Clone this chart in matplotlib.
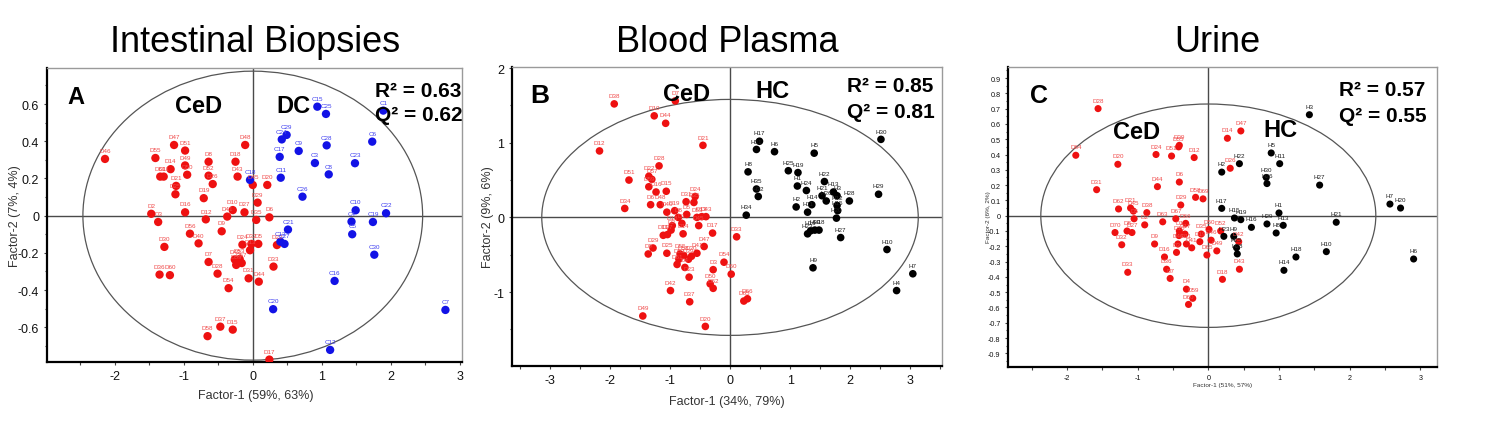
import matplotlib
matplotlib.use("Agg")
import matplotlib.pyplot as plt
from matplotlib.patches import Ellipse
from matplotlib.ticker import MultipleLocator, FuncFormatter

plt.rcParams['font.family'] = ['Liberation Sans', 'DejaVu Sans']
plt.rcParams['axes.unicode_minus'] = False

# ---------------- Panel A: Intestinal Biopsies ----------------
a_ced_labels = ["D46", "D47", "D51", "D55", "D14", "D49", "D50", "D61", "D11", "D21",
                "D25", "D8", "D52", "D26", "D19", "D48", "D18", "D43", "D2", "D3",
                "D16", "D12", "D10", "D41", "D27", "D9", "D56", "D40", "D30", "D24",
                "D13", "D32", "D5", "D22", "D7", "D42", "D57", "D59", "D53", "D33",
                "D28", "D36", "D60", "D31", "D44", "D54", "D37", "D15", "D58", "D17",
                "D20", "D45", "D29", "D6", "D35"]
a_ced_x = [-2.14, -1.14, -0.98, -1.41, -1.19, -0.98, -0.95, -1.34, -1.29, -1.11,
           -1.12, -0.64, -0.64, -0.58, -0.71, -0.11, -0.25, -0.22, -1.47, -1.37,
           -0.98, -0.68, -0.29, -0.37, -0.12, -0.45, -0.91, -0.785, -1.28, -0.15,
           -0.04, -0.02, 0.08, 0.35, -0.64, -0.26, -0.16, -0.24, -0.19, 0.30,
           -0.51, -1.35, -1.20, -0.06, 0.087, -0.35, -0.47, -0.29, -0.655, 0.24,
           0.21, 0.0, 0.07, 0.24, 0.05]
a_ced_y = [0.305, 0.38, 0.35, 0.31, 0.25, 0.27, 0.22, 0.21, 0.21, 0.16,
           0.115, 0.29, 0.215, 0.17, 0.094, 0.38, 0.29, 0.21, 0.01, -0.034,
           0.018, -0.02, 0.03, -0.005, 0.018, -0.084, -0.097, -0.149, -0.168, -0.156,
           -0.186, -0.152, -0.152, -0.158, -0.249, -0.236, -0.255, -0.265, -0.233, -0.274,
           -0.312, -0.317, -0.32, -0.337, -0.355, -0.39, -0.597, -0.613, -0.648, -0.774,
           0.165, 0.165, 0.07, -0.009, -0.023]

a_dc_labels = ["C15", "C25", "C1", "C29", "C24", "C9", "C28", "C6", "C17", "C3",
               "C23", "C8", "C11", "C18", "C26", "C10", "C22", "C19", "C4", "C5",
               "C21", "C13", "C27", "C30", "C16", "C20", "C12", "C7"]
a_dc_x = [0.935, 1.06, 1.89, 0.49, 0.42, 0.665, 1.07, 1.73, 0.39, 0.90,
          1.48, 1.10, 0.405, -0.04, 0.72, 1.49, 1.93, 1.74, 1.43, 1.44,
          0.51, 0.40, 0.46, 1.76, 1.185, 0.295, 1.12, 2.79]
a_dc_y = [0.586, 0.547, 0.565, 0.434, 0.41, 0.348, 0.378, 0.398, 0.316, 0.283,
          0.282, 0.222, 0.204, 0.192, 0.102, 0.029, 0.013, -0.034, -0.032, -0.10,
          -0.075, -0.14, -0.152, -0.21, -0.351, -0.503, -0.722, -0.507]

# ---------------- Panel B: Blood Plasma ----------------
b_ced_labels = ["D38", "D7", "D10", "D44", "D12", "D21", "D28", "D51", "D22", "D57",
                "D59", "D16", "D15", "D34", "D6", "D48", "D40", "D19", "D31", "D24",
                "D35", "D5", "D8", "D53", "D43", "D13", "D45", "D1", "D18", "D2",
                "D17", "D14", "D27", "D11", "D33", "D29", "D9", "D25", "D55", "D58",
                "D41", "D47", "D30", "D39", "D61", "D52", "D4", "D54", "D3", "D60",
                "D23", "D50", "D62", "D42", "D37", "D65", "D66", "D49", "D20"]
b_ced_x = [-1.925, -0.91, -1.26, -1.07, -2.17, -0.45, -1.18, -1.68, -1.35, -1.30,
           -1.35, -1.23, -1.06, -1.75, -1.32, -1.16, -1.05, -0.92, -0.73, -0.58,
           -0.60, -0.72, -0.86, -0.55, -0.40, -0.47, -0.52, -0.80, -0.96, -0.98,
           -0.29, -0.78, -1.04, -1.11, 0.11, -1.28, -1.36, -1.05, -0.83, -0.77,
           -0.55, -0.43, -0.64, -0.69, -0.88, -0.85, -0.75, -0.10, -0.28, 0.02,
           -0.68, -0.33, -0.28, -0.99, -0.67, 0.23, 0.29, -1.45, -0.41]
b_ced_y = [1.52, 1.56, 1.36, 1.26, 0.89, 0.965, 0.69, 0.50, 0.55, 0.51,
           0.41, 0.34, 0.35, 0.12, 0.17, 0.17, 0.07, 0.09, 0.21, 0.28,
           0.20, 0.04, 0.0, 0.0, 0.01, 0.01, -0.11, -0.08, -0.11, -0.17,
           -0.21, -0.22, -0.23, -0.24, -0.26, -0.41, -0.49, -0.48, -0.49, -0.51,
           -0.48, -0.39, -0.52, -0.56, -0.63, -0.56, -0.67, -0.60, -0.70, -0.76,
           -0.80, -0.89, -0.95, -0.98, -1.13, -1.12, -1.09, -1.32, -1.46]

b_hc_labels = ["H30", "H17", "H31", "H6", "H5", "H8", "H25", "H19", "H22", "H1",
               "H24", "H13", "H3", "H28", "H29", "H35", "H32", "H34", "H2", "H11",
               "H14", "H21", "H26", "H12", "H15", "H20", "H18", "H33", "H16", "H23",
               "H27", "H9", "H10", "H7", "H4"]
b_hc_x = [2.51, 0.49, 0.44, 0.74, 1.40, 0.30, 0.97, 1.13, 1.57, 1.12,
          1.27, 1.72, 1.78, 1.985, 2.47, 0.44, 0.47, 0.27, 1.10, 1.29,
          1.36, 1.53, 1.60, 1.78, 1.79, 1.77, 1.48, 1.41, 1.34, 1.29,
          1.84, 1.38, 2.61, 3.04, 2.77]
b_hc_y = [1.045, 1.02, 0.91, 0.88, 0.86, 0.61, 0.625, 0.60, 0.48, 0.42,
          0.36, 0.34, 0.29, 0.22, 0.31, 0.38, 0.28, 0.03, 0.14, 0.07,
          0.17, 0.29, 0.22, 0.16, 0.09, -0.01, -0.17, -0.17, -0.18, -0.22,
          -0.27, -0.675, -0.43, -0.755, -0.98]

# ---------------- Panel C: Urine ----------------
c_ced_labels = ["D28", "D64", "D20", "D31", "D24", "D51", "D39", "D55", "D12", "D14",
                "D47", "D26", "D44", "D6", "D29", "D58", "D69", "D62", "D21", "D45",
                "D5", "D38", "D2", "D63", "D67", "D66", "D70", "D8", "D27", "D32",
                "D9", "D1", "D17", "D10", "D40", "D11", "D41", "D35", "D19", "D50",
                "D46", "D52", "D16", "D36", "D7", "D3", "D65", "D49", "D33", "D4",
                "D59", "D60", "D18", "D43", "D42"]
c_ced_x = [-1.56, -1.875, -1.28, -1.58, -0.74, -0.52, -0.41, -0.42, -0.20, 0.27,
           0.46, 0.31, -0.72, -0.41, -0.39, -0.18, -0.075, -1.27, -1.10, -1.06,
           -1.05, -0.87, -0.90, -0.645, -0.46, -0.32, -1.32, -1.15, -1.08, -1.225,
           -0.76, -0.41, -0.33, -0.415, -0.43, -0.31, -0.235, -0.10, -0.12, 0.01,
           0.04, 0.175, -0.62, -0.59, -0.54, -0.45, -0.02, 0.12, -1.14, -0.31,
           -0.22, -0.28, 0.20, 0.44, 0.43]
c_ced_y = [0.70, 0.395, 0.336, 0.17, 0.40, 0.39, 0.46, 0.45, 0.38, 0.506,
           0.554, 0.31, 0.19, 0.22, 0.07, 0.12, 0.11, 0.044, 0.05, 0.03,
           -0.02, 0.02, -0.06, -0.04, -0.02, -0.05, -0.11, -0.10, -0.11, -0.19,
           -0.185, -0.10, -0.12, -0.13, -0.185, -0.185, -0.21, -0.12, -0.17, -0.09,
           -0.16, -0.10, -0.27, -0.35, -0.41, -0.24, -0.257, -0.23, -0.37, -0.48,
           -0.54, -0.58, -0.416, -0.35, -0.17]

c_hc_labels = ["H3", "H5", "H11", "H22", "H2", "H30", "H26", "H27", "H7", "H20",
               "H17", "H1", "H15", "H19", "H16", "H29", "H13", "H8", "H21", "H9",
               "H23", "H25", "H28", "H14", "H18", "H10", "H6"]
c_hc_x = [1.43, 0.89, 1.01, 0.44, 0.19, 0.82, 0.83, 1.575, 2.57, 2.72,
          0.19, 1.0, 0.37, 0.46, 0.61, 0.83, 1.06, 0.96, 1.81, 0.36,
          0.22, 0.40, 0.41, 1.07, 1.24, 1.67, 2.905]
c_hc_y = [0.66, 0.41, 0.34, 0.34, 0.285, 0.25, 0.21, 0.20, 0.076, 0.05,
          0.048, 0.018, -0.015, -0.026, -0.076, -0.054, -0.063, -0.113, -0.043, -0.135,
          -0.135, -0.21, -0.25, -0.357, -0.27, -0.235, -0.283]

titles = ["Intestinal Biopsies", "Blood Plasma", "Urine"]
panel_letters = ["A", "B", "C"]
xlabels = ["Factor-1 (59%, 63%)", "Factor-1 (34%, 79%)", "Factor-1 (51%, 57%)"]
ylabels = ["Factor-2 (7%, 4%)", "Factor-2 (9%, 6%)", "Factor-2 (6%, 2%)"]
r2_texts = ["R² = 0.63", "R² = 0.85", "R² = 0.57"]
q2_texts = ["Q² = 0.62", "Q² = 0.81", "Q² = 0.55"]
group_texts = [("CeD", "DC"), ("CeD", "HC"), ("CeD", "HC")]

# ---------------- Figure ----------------
W, H = 1490, 431
fig = plt.figure(figsize=(W / 100, H / 100), dpi=100)
fig.patch.set_facecolor('white')

def fx(x):
    return x / W

def fy(y):
    return 1 - y / H

def make_axes(l, r, t, b):
    return fig.add_axes([fx(l), fy(b), fx(r) - fx(l), fy(t) - fy(b)])

RED, RED_T = '#EE1111', '#F04A4A'
BLUE, BLUE_T = '#1212E6', '#3C3CF0'
BLK, BLK_T = '#000000', '#1E1E1E'

def fmt(v, p):
    if abs(v) < 1e-9:
        return "0"
    return f"{round(v, 2):g}"

def style_axes(ax, tick_fs, xmaj, xmin, ymaj, ymin):
    for side in ['top', 'right']:
        ax.spines[side].set_color('#9a9a9a')
        ax.spines[side].set_linewidth(1.0)
    for side in ['left', 'bottom']:
        ax.spines[side].set_color('#000000')
        ax.spines[side].set_linewidth(1.6)
    ax.xaxis.set_major_locator(MultipleLocator(xmaj))
    ax.xaxis.set_minor_locator(MultipleLocator(xmin))
    ax.yaxis.set_major_locator(MultipleLocator(ymaj))
    ax.yaxis.set_minor_locator(MultipleLocator(ymin))
    ax.xaxis.set_major_formatter(FuncFormatter(fmt))
    ax.yaxis.set_major_formatter(FuncFormatter(fmt))
    ax.tick_params(which='both', direction='out', length=2.5, width=0.8,
                   color='#444444', labelsize=tick_fs, labelcolor='#111111', pad=3)
    ax.tick_params(which='minor', length=1.8)
    ax.axhline(0, color='#4a4a4a', lw=1.0, zorder=1)
    ax.axvline(0, color='#4a4a4a', lw=1.0, zorder=1)

def draw_group(ax, labels, xs, ys, c, tc, s):
    ax.scatter(xs, ys, s=s, c=c, edgecolors='none', zorder=3)
    for lab, x, y in zip(labels, xs, ys):
        ax.annotate(lab, (x, y), xytext=(0, 4.2), textcoords='offset points',
                    ha='center', va='bottom', fontsize=4.5, color=tc, zorder=4)

# Panel A
axA = make_axes(47, 462, 69, 363)
axA.set_xlim(-2.98, 3.03)
axA.set_ylim(-0.787, 0.794)
style_axes(axA, 9, 1, 0.5, 0.2, 0.1)
axA.add_patch(Ellipse((0, 0), 2 * 2.46, 2 * 0.777, fill=False, ec='#555555', lw=0.9, zorder=2))
draw_group(axA, a_ced_labels, a_ced_x, a_ced_y, RED, RED_T, 36)
draw_group(axA, a_dc_labels, a_dc_x, a_dc_y, BLUE, BLUE_T, 36)

# Panel B
axB = make_axes(511.7, 942.3, 68.3, 367)
axB.set_xlim(-3.63, 3.53)
axB.set_ylim(-1.99, 2.01)
style_axes(axB, 9, 1, 0.5, 1, 0.5)
axB.add_patch(Ellipse((0, 0), 2 * 3.13, 2 * 1.58, fill=False, ec='#555555', lw=0.9, zorder=2))
draw_group(axB, b_ced_labels, b_ced_x, b_ced_y, RED, RED_T, 30)
draw_group(axB, b_hc_labels, b_hc_x, b_hc_y, BLK, BLK_T, 30)

# Panel C
axC = make_axes(1008.3, 1437.3, 68.3, 367.7)
axC.set_xlim(-2.83, 3.24)
axC.set_ylim(-0.987, 0.97)
style_axes(axC, 5.2, 1, 0.5, 0.1, 0.05)
axC.add_patch(Ellipse((0, 0), 2 * 2.37, 2 * 0.73, fill=False, ec='#555555', lw=0.9, zorder=2))
draw_group(axC, c_ced_labels, c_ced_x, c_ced_y, RED, RED_T, 26)
draw_group(axC, c_hc_labels, c_hc_x, c_hc_y, BLK, BLK_T, 26)

# Titles
for txt, cx in zip(titles, [255, 727, 1217]):
    fig.text(fx(cx), fy(52), txt, ha='center', va='baseline', fontsize=26, color='black')

# Axis labels
fig.text(fx(255.5), fy(396), xlabels[0], ha='center', va='center', fontsize=9, color='#333333')
fig.text(fx(727), fy(402), xlabels[1], ha='center', va='center', fontsize=9, color='#333333')
fig.text(fx(1223), fy(386), xlabels[2], ha='center', va='center', fontsize=4.6, color='#333333')
fig.text(fx(15), fy(216), ylabels[0], ha='center', va='center', rotation=90, fontsize=9, color='#333333')
fig.text(fx(488), fy(217), ylabels[1], ha='center', va='center', rotation=90, fontsize=9, color='#333333')
fig.text(fx(988.5), fy(217), ylabels[2], ha='center', va='center', rotation=90, fontsize=4.6, color='#333333')

# Panel letters
for letter, (lx, ly), fs in zip(panel_letters, [(67, 104), (530, 103), (1030, 103)], [17, 19, 18]):
    fig.text(fx(lx), fy(ly), letter, ha='left', va='baseline', fontsize=fs, fontweight='bold')

# Group texts
grp_pos = [((175, 113), (276, 113)), ((663, 101), (755, 98)), ((1113, 139), (1263, 137))]
for (g1, g2), (p1, p2) in zip(group_texts, grp_pos):
    fig.text(fx(p1[0]), fy(p1[1]), g1, ha='left', va='baseline', fontsize=17, fontweight='bold')
    fig.text(fx(p2[0]), fy(p2[1]), g2, ha='left', va='baseline', fontsize=17, fontweight='bold')

# R2 / Q2
rq_pos = [(375, 97, 121), (847, 92, 118), (1339, 96, 122)]
for r2, q2, (rx, ry, qy) in zip(r2_texts, q2_texts, rq_pos):
    fig.text(fx(rx), fy(ry), r2, ha='left', va='baseline', fontsize=15, fontweight='bold')
    fig.text(fx(rx), fy(qy), q2, ha='left', va='baseline', fontsize=15, fontweight='bold')

fig.savefig("out.png", dpi=100)
